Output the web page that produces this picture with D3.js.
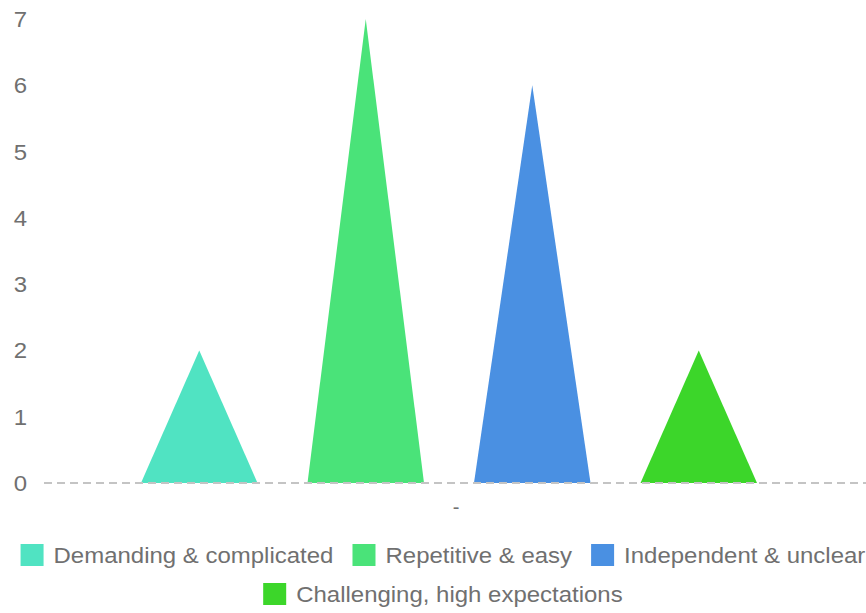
<!DOCTYPE html>
<html>
<head>
<meta charset="utf-8">
<script src="https://cdn.jsdelivr.net/npm/d3@7"></script>
<style>
  html, body { margin: 0; padding: 0; background: #fff; }
  svg { display: block; font-family: "Liberation Sans", Arial, sans-serif; }
</style>
</head>
<body>
<svg id="chart" width="866" height="613"></svg>
<script>
// Data
const categories = ["-"];
const seriesNames = [
  "Demanding & complicated",
  "Repetitive & easy",
  "Independent & unclear",
  "Challenging, high expectations"
];
const seriesValues = [2, 7, 6, 2];
const seriesColors = ["#50e3c2", "#4ae379", "#4a90e2", "#3cd62a"];
const yTicks = [0, 1, 2, 3, 4, 5, 6, 7];

const svg = d3.select("#chart");
const textScaleX = 1.09;

const y = d3.scaleLinear().domain([0, 7]).range([483, 19]);
const x0 = d3.scaleBand().domain(categories).range([44, 868]).padding(0);
const x1 = d3.scaleBand()
  .domain(seriesNames)
  .range([72, x0.bandwidth() - 86])
  .paddingInner(0.3)
  .paddingOuter(0.15);

// Y tick labels
svg.append("g").selectAll("text")
  .data(yTicks)
  .join("text")
  .attr("transform", d => `translate(27,${y(d) + 8}) scale(${textScaleX},1)`)
  .attr("text-anchor", "end")
  .attr("font-size", 22)
  .attr("fill", "#707070")
  .text(d => d);

// Triangular bars
const cat = categories[0];
svg.append("g").selectAll("path")
  .data(seriesNames.map((s, i) => ({ name: s, value: seriesValues[i], color: seriesColors[i] })))
  .join("path")
  .attr("fill", d => d.color)
  .attr("d", d => {
    const xs = x0(cat) + x1(d.name);
    const w = x1.bandwidth();
    return `M${xs},${y(0)}L${xs + w / 2},${y(d.value)}L${xs + w},${y(0)}Z`;
  });

// Zero baseline (dashed)
svg.append("line")
  .attr("x1", x0.range()[0]).attr("x2", x0.range()[1])
  .attr("y1", y(0)).attr("y2", y(0))
  .attr("stroke", "#c4c4c4")
  .attr("stroke-width", 2)
  .attr("stroke-dasharray", "8,5");

// Category label
svg.append("text")
  .attr("x", x0(cat) + x0.bandwidth() / 2)
  .attr("y", 514)
  .attr("text-anchor", "middle")
  .attr("font-size", 20)
  .attr("fill", "#707070")
  .text(cat);

// Legend, wrapped into centred rows
const legendCx = 443;
const sw = 23, swGap = 10, itemGap = 19, maxRow = 890;
const items = seriesNames.map((s, i) => ({ name: s, color: seriesColors[i] }));
const meas = svg.append("text").attr("font-size", 22).attr("visibility", "hidden");
items.forEach(it => {
  meas.text(it.name);
  it.tw = meas.node().getComputedTextLength() * textScaleX;
  it.w = sw + swGap + it.tw;
});
meas.remove();

const rows = [];
let cur = [], curW = 0;
items.forEach(it => {
  const add = (cur.length ? itemGap : 0) + it.w;
  if (cur.length && curW + add > maxRow) { rows.push({ items: cur, w: curW }); cur = []; curW = 0; }
  curW += (cur.length ? itemGap : 0) + it.w;
  cur.push(it);
});
if (cur.length) rows.push({ items: cur, w: curW });

const legend = svg.append("g");
rows.forEach((row, r) => {
  let xpos = legendCx - row.w / 2;
  const top = 544 + r * 39;
  row.items.forEach(it => {
    legend.append("rect")
      .attr("x", xpos).attr("y", top)
      .attr("width", sw).attr("height", 22)
      .attr("fill", it.color);
    legend.append("text")
      .attr("transform", `translate(${xpos + sw + swGap},${top + 19}) scale(${textScaleX},1)`)
      .attr("font-size", 22)
      .attr("fill", "#707070")
      .text(it.name);
    xpos += it.w + itemGap;
  });
});
</script>
</body>
</html>
